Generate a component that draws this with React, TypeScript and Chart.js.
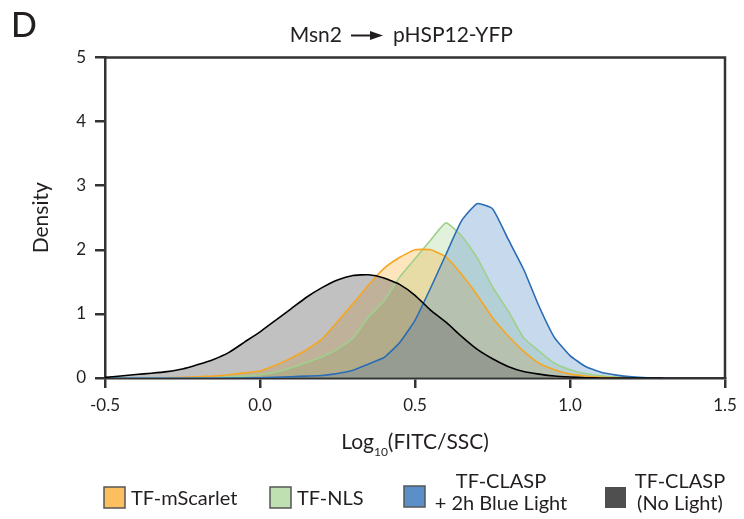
import React, { useEffect, useRef } from "react";
import { Chart, registerables } from "chart.js";

Chart.register(...registerables);

// x positions of the density estimates, Log10(FITC/SSC)
const xValues = [
  -0.5, -0.45, -0.4, -0.35, -0.3, -0.25, -0.2, -0.15, -0.1, -0.05,
  0.0, 0.05, 0.1, 0.15, 0.2, 0.25, 0.3, 0.35, 0.4, 0.45,
  0.5, 0.55, 0.6, 0.65, 0.7, 0.75, 0.8, 0.85, 0.9, 0.95,
  1.0, 1.05, 1.1, 1.15, 1.2, 1.25, 1.3,
];

const tfMScarlet = [
  0, 0, 0, 0, 0.005, 0.01, 0.02, 0.03, 0.05, 0.08,
  0.11, 0.2, 0.31, 0.44, 0.61, 0.88, 1.16, 1.45, 1.71, 1.88,
  2.0, 2.0, 1.89, 1.62, 1.3, 0.94, 0.66, 0.42, 0.23, 0.13,
  0.06, 0.03, 0.012, 0.004, 0, 0, 0,
];

const tfNLS = [
  0, 0, 0, 0, 0, 0, 0.005, 0.01, 0.02, 0.03,
  0.05, 0.09, 0.16, 0.24, 0.33, 0.45, 0.62, 0.95, 1.2, 1.57,
  1.86, 2.15, 2.42, 2.22, 1.88, 1.42, 1.05, 0.63, 0.42, 0.23,
  0.13, 0.07, 0.035, 0.015, 0.005, 0, 0,
];

const tfClaspLight = [
  0, 0, 0, 0, 0, 0, 0, 0, 0, 0,
  0.005, 0.01, 0.02, 0.03, 0.04, 0.07, 0.12, 0.22, 0.32, 0.55,
  0.9, 1.4, 1.93, 2.45, 2.72, 2.64, 2.17, 1.7, 1.12, 0.63,
  0.35, 0.18, 0.09, 0.045, 0.018, 0.005, 0,
];

const tfClaspNoLight = [
  0.01, 0.03, 0.055, 0.075, 0.1, 0.14, 0.21, 0.29, 0.4, 0.56,
  0.72, 0.9, 1.08, 1.26, 1.41, 1.53, 1.6, 1.61, 1.56, 1.46,
  1.29, 1.06, 0.87, 0.65, 0.45, 0.3, 0.18, 0.1, 0.06, 0.03,
  0.015, 0.005, 0, 0, 0, 0, 0,
];

const xTicks = [-0.5, 0.0, 0.5, 1.0, 1.5];
const yTicks = [0, 1, 2, 3, 4, 5];

const panelLetter = "D";
const titleLeft = "Msn2";
const titleRight = "pHSP12-YFP";
const yTitle = "Density";
const xTitleMain = "Log";
const xTitleSub = "10";
const xTitleRest = "(FITC/SSC)";

const legendLabels = [
  ["TF-mScarlet"],
  ["TF-NLS"],
  ["TF-CLASP", "+ 2h Blue Light"],
  ["TF-CLASP", "(No Light)"],
];
const legendSwatches = ["#fbbf5f", "#bfe0b0", "#5b8fc7", "#4f4f4f"];

const FONT = "Lato, 'Open Sans', sans-serif";
const INK = "#231f20";

const toPoints = (ys: number[]) => xValues.map((x, i) => ({ x, y: ys[i] }));

const overlayPlugin = {
  id: "overlay",
  afterDraw(chart: any) {
    const { ctx, chartArea: ca } = chart;
    ctx.save();
    // frame top and right
    ctx.strokeStyle = "#333";
    ctx.lineWidth = 2.5;
    ctx.beginPath();
    ctx.moveTo(ca.left - 1.25, ca.top);
    ctx.lineTo(ca.right, ca.top);
    ctx.lineTo(ca.right, ca.bottom);
    ctx.stroke();

    ctx.fillStyle = INK;
    ctx.textBaseline = "alphabetic";
    // panel letter
    ctx.font = `500 34px ${FONT}`;
    ctx.textAlign = "left";
    ctx.fillText(panelLetter, 11, 37);

    // title
    ctx.font = `21px ${FONT}`;
    ctx.textAlign = "right";
    ctx.fillText(titleLeft, 342, 42);
    ctx.textAlign = "left";
    ctx.fillText(titleRight, 393, 42);
    ctx.strokeStyle = INK;
    ctx.lineWidth = 2;
    ctx.beginPath();
    ctx.moveTo(351, 35.5);
    ctx.lineTo(374, 35.5);
    ctx.stroke();
    ctx.beginPath();
    ctx.moveTo(370, 31);
    ctx.lineTo(383, 35.5);
    ctx.lineTo(370, 40);
    ctx.closePath();
    ctx.fill();

    // x axis title with subscript
    const cx = (ca.left + ca.right) / 2;
    ctx.font = `21px ${FONT}`;
    const w1 = ctx.measureText(xTitleMain).width;
    const w3 = ctx.measureText(xTitleRest).width;
    ctx.font = `12px ${FONT}`;
    const w2 = ctx.measureText(xTitleSub).width;
    let x0 = cx - (w1 + w2 + w3) / 2;
    ctx.textAlign = "left";
    ctx.font = `21px ${FONT}`;
    ctx.fillText(xTitleMain, x0, 449);
    x0 += w1;
    ctx.font = `12px ${FONT}`;
    ctx.fillText(xTitleSub, x0, 456);
    x0 += w2;
    ctx.font = `21px ${FONT}`;
    ctx.fillText(xTitleRest, x0, 449);

    // legend
    const swatchX = [104, 270, 404, 605];
    const swatchY = [487, 487, 486, 487];
    ctx.font = `20px ${FONT}`;
    legendLabels.forEach((lines, i) => {
      ctx.fillStyle = legendSwatches[i];
      ctx.fillRect(swatchX[i], swatchY[i], 21, 21);
      if (i < 3) {
        ctx.strokeStyle = "#555";
        ctx.lineWidth = 1.5;
        ctx.strokeRect(swatchX[i], swatchY[i], 21, 21);
      }
      ctx.fillStyle = INK;
      if (lines.length === 1) {
        ctx.textAlign = "left";
        ctx.fillText(lines[0], swatchX[i] + 27, 505);
      } else {
        ctx.textAlign = "center";
        const centerX = i === 2 ? 501 : 680;
        ctx.fillText(lines[0], centerX, 487.5);
        ctx.fillText(lines[1], centerX, 510);
      }
    });
    ctx.restore();
  },
};

export default function App() {
  const canvasRef = useRef<HTMLCanvasElement | null>(null);

  useEffect(() => {
    const canvas = canvasRef.current;
    if (!canvas) return;
    const lineDs = (label: string, data: number[], stroke: string, fill: string) => ({
      label,
      data: toPoints(data),
      borderColor: stroke,
      backgroundColor: fill,
      borderWidth: 1.6,
      pointRadius: 0,
      tension: 0.15,
      fill: "origin",
    });
    const chart = new Chart(canvas, {
      type: "line",
      data: {
        datasets: [
          lineDs("TF-CLASP (No Light)", tfClaspNoLight, "#000000", "rgba(100,100,100,0.4)"),
          lineDs("TF-CLASP + 2h Blue Light", tfClaspLight, "#2a6db5", "rgba(70,130,195,0.3)"),
          lineDs("TF-mScarlet", tfMScarlet, "#f6a623", "rgba(247,168,40,0.3)"),
          lineDs("TF-NLS", tfNLS, "#9fd08c", "rgba(157,208,138,0.3)"),
        ],
      },
      options: {
        animation: false,
        responsive: false,
        maintainAspectRatio: false,
        layout: { padding: { top: 57.5, right: 19, bottom: 0, left: 0 } },
        plugins: {
          legend: { display: false },
          tooltip: { enabled: false },
          title: { display: false },
          filler: { drawTime: "beforeDatasetsDraw" },
        },
        scales: {
          x: {
            type: "linear",
            min: -0.5,
            max: 1.5,
            z: 1,
            afterFit: (scale: any) => {
              scale.height = 141;
            },
            afterBuildTicks: (scale: any) => {
              scale.ticks = xTicks.map((v) => ({ value: v }));
            },
            ticks: {
              color: INK,
              font: { family: FONT, size: 17 },
              padding: 7,
              maxRotation: 0,
              callback: (v: any) => Number(v).toFixed(1),
            },
            grid: {
              drawOnChartArea: false,
              drawTicks: true,
              tickLength: 10,
              color: "#333",
              lineWidth: 2.5,
            },
            border: { display: true, color: "#333", width: 2.5 },
          },
          y: {
            min: 0,
            max: 5,
            z: 1,
            afterFit: (scale: any) => {
              scale.width = 105;
            },
            afterBuildTicks: (scale: any) => {
              scale.ticks = yTicks.map((v) => ({ value: v }));
            },
            ticks: {
              color: INK,
              font: { family: FONT, size: 17 },
              padding: 9,
              callback: (v: any) => String(v),
            },
            grid: {
              drawOnChartArea: false,
              drawTicks: true,
              tickLength: 10,
              color: "#333",
              lineWidth: 2.5,
            },
            border: { display: true, color: "#333", width: 2.5 },
            title: {
              display: true,
              text: yTitle,
              color: INK,
              font: { family: FONT, size: 21 },
              padding: { top: 29, bottom: 0 },
            },
          },
        },
      },
      plugins: [overlayPlugin],
    });
    return () => chart.destroy();
  }, []);

  return (
    <div style={{ position: "absolute", left: 0, top: 0, width: 744, height: 519, background: "#fff" }}>
      <canvas ref={canvasRef} width={744} height={519} style={{ width: 744, height: 519, display: "block" }} />
    </div>
  );
}
